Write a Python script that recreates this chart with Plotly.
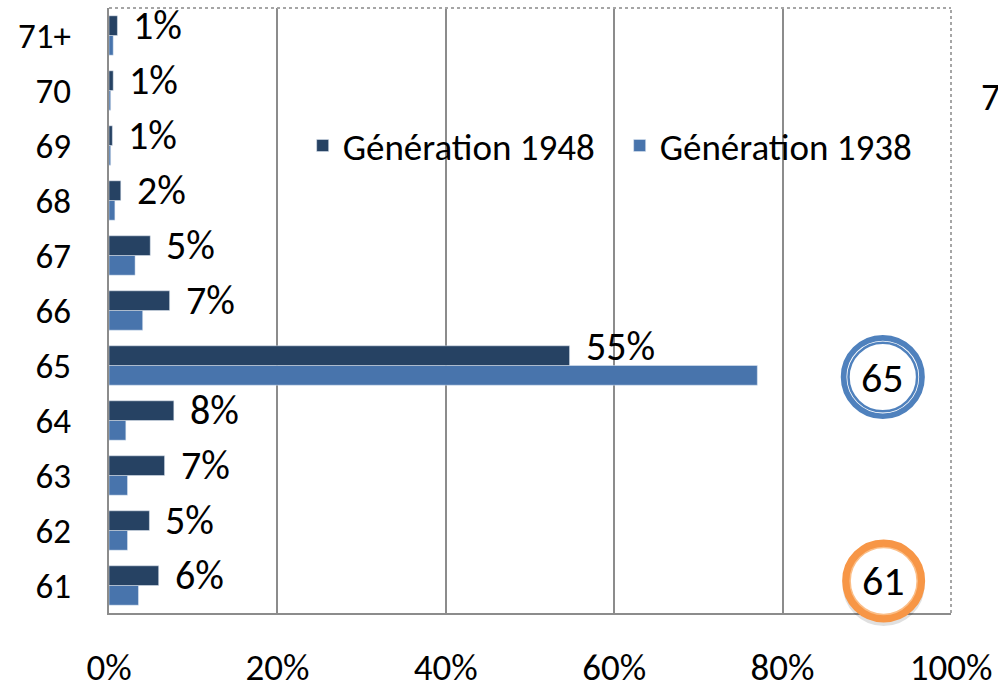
import plotly.graph_objects as go

ages = ["61", "62", "63", "64", "65", "66", "67", "68", "69", "70", "71+"]
gen_1948 = [5.9, 4.8, 6.6, 7.7, 54.7, 7.2, 4.9, 1.4, 0.4, 0.5, 1.0]
gen_1938 = [3.5, 2.2, 2.2, 2.0, 77.0, 4.0, 3.1, 0.7, 0.2, 0.2, 0.5]
labels_1948 = ["6%", "5%", "7%", "8%", "55%", "7%", "5%", "2%", "1%", "1%", "1%"]
x_ticks = [0, 20, 40, 60, 80, 100]

DARK = "#264263"
LIGHT = "#4874AC"
GRID = "#8C8C8C"
FONT = "Carlito, Calibri, Lato, sans-serif"

fig = go.Figure()

# 1938 first so it sits below 1948 in each group
fig.add_trace(go.Bar(y=ages, x=gen_1938, orientation="h", name="Génération 1938",
                     marker_color=LIGHT, legendrank=2))
fig.add_trace(go.Bar(y=ages, x=gen_1948, orientation="h", name="Génération 1948",
                     marker_color=DARK, legendrank=1))

for i, (v48, v38, lab) in enumerate(zip(gen_1948, gen_1938, labels_1948)):
    # lift the label when the lighter bar would run under it
    shift = 19 if v38 > v48 + 5 else 10
    # category axis: annotations take the category index
    fig.add_annotation(x=v48, y=i, text=lab, showarrow=False,
                       xanchor="left", yanchor="middle", xshift=14, yshift=shift,
                       font=dict(size=40, color="black", family=FONT))

# dotted top / right border
fig.add_shape(type="line", xref="paper", yref="paper", x0=0, x1=1, y0=1, y1=1,
              line=dict(color="#A6A6A6", width=2, dash="dot"))
fig.add_shape(type="line", xref="paper", yref="paper", x0=1, x1=1, y0=0, y1=1,
              line=dict(color="#A6A6A6", width=2, dash="dot"))

# blue double ring "65"
for r, w in [(39.2, 5.7), (34.3, 2.5)]:
    fig.add_shape(type="circle", xref="paper", yref="paper",
                  xsizemode="pixel", ysizemode="pixel", xanchor=0.919, yanchor=0.39,
                  x0=-r, x1=r, y0=-r, y1=r,
                  line=dict(color="#4F81BD", width=w),
                  fillcolor="white" if w > 3 else "rgba(0,0,0,0)")
fig.add_annotation(xref="paper", yref="paper", x=0.919, y=0.39, text="65",
                   xanchor="center", yanchor="middle", showarrow=False,
                   font=dict(size=42, color="black", family=FONT))

# orange ring "61" with soft shadow
fig.add_shape(type="circle", xref="paper", yref="paper",
              xsizemode="pixel", ysizemode="pixel", xanchor=0.92, yanchor=0.053,
              x0=-37, x1=37, y0=-41, y1=33,
              line=dict(color="rgba(0,0,0,0.12)", width=8))
fig.add_shape(type="circle", xref="paper", yref="paper",
              xsizemode="pixel", ysizemode="pixel", xanchor=0.92, yanchor=0.053,
              x0=-37.5, x1=37.5, y0=-37.5, y1=37.5,
              line=dict(color="#F79646", width=8), fillcolor="white")
fig.add_shape(type="circle", xref="paper", yref="paper",
              xsizemode="pixel", ysizemode="pixel", xanchor=0.92, yanchor=0.053,
              x0=-33.5, x1=33.5, y0=-33.5, y1=33.5,
              line=dict(color="#FBBE87", width=1.5))
fig.add_annotation(xref="paper", yref="paper", x=0.92, y=0.053, text="61",
                   xanchor="center", yanchor="middle", showarrow=False,
                   font=dict(size=42, color="black", family=FONT))

# stray label cut at the right edge
fig.add_annotation(xref="paper", yref="paper", x=1.033, y=0.853, text="7",
                   xanchor="left", yanchor="middle", showarrow=False,
                   font=dict(size=38, color="black", family=FONT))

fig.update_layout(
    width=998, height=687,
    margin=dict(l=109, r=47, t=8, b=74),
    plot_bgcolor="white", paper_bgcolor="white",
    barmode="group", bargap=0.284, bargroupgap=0,
    font=dict(family=FONT, color="black"),
    legend=dict(orientation="h", x=0.23, y=0.772, xanchor="left", yanchor="middle",
                font=dict(size=37, family=FONT), bgcolor="rgba(0,0,0,0)",
                entrywidth=272, itemclick=False),
    xaxis=dict(range=[0, 100], tickvals=x_ticks,
               ticktext=[f"{v}%" for v in x_ticks],
               showgrid=True, gridcolor=GRID, gridwidth=1.5,
               showline=True, linecolor=GRID, linewidth=2, zeroline=False,
               ticks="", ticklabelstandoff=21, automargin=False,
               tickfont=dict(size=37, family=FONT)),
    yaxis=dict(type="category", categoryorder="array", categoryarray=ages,
               range=[-0.5, len(ages) - 0.5],
               showgrid=False, showline=True, linecolor=GRID, linewidth=2,
               ticks="", ticklabelstandoff=29, automargin=False,
               tickfont=dict(size=35, family=FONT)),
)

fig.write_html("out.html", config={"displayModeBar": False},
               post_script="document.body.style.margin='0';")
